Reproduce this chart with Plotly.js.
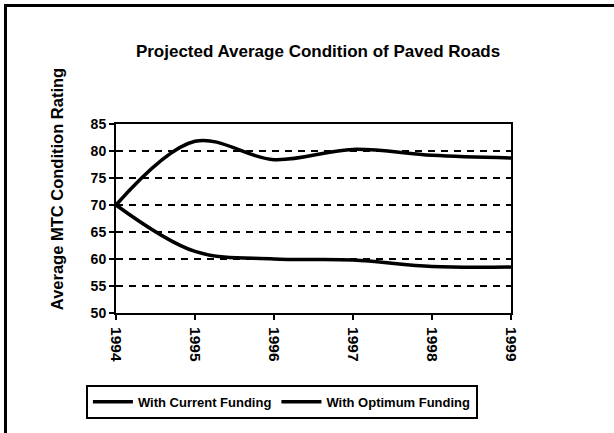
<!DOCTYPE html>
<html><head><meta charset="utf-8">
<script src="https://cdn.plot.ly/plotly-3.0.1.min.js"></script>
<style>
body{margin:0;padding:0;background:#fff;}
#wrap{position:relative;width:614px;height:433px;}
#chart{position:absolute;left:0;top:0;width:614px;height:433px;}
#frame{position:absolute;left:4px;top:4px;width:620px;height:426px;border-left:3px solid #000;border-top:3px solid #000;pointer-events:none;}
</style></head>
<body><div id="wrap"><div id="chart"></div><div id="frame"></div></div>
<script>
const years = ['1994','1995','1996','1997','1998','1999'];
const currentFunding = [70, 61.4, 60.0, 59.8, 58.6, 58.5];
const optimumFunding = [70, 81.8, 78.4, 80.3, 79.2, 78.7];
const yTicks = [50, 55, 60, 65, 70, 75, 80, 85];
const yTitle = 'Average MTC Condition Rating';

const F = '"Liberation Sans", Arial, sans-serif';
const lineStyle = {color:'#000', width:3.5, shape:'spline', smoothing:1};

const traces = [
  {x:[0,1,2,3,4,5], y:currentFunding, name:'With Current Funding', mode:'lines', line:lineStyle},
  {x:[0,1,2,3,4,5], y:optimumFunding, name:'With Optimum Funding', mode:'lines', line:lineStyle}
];

const layout = {
  width:614, height:433,
  margin:{l:116, r:103, t:124, b:120},
  paper_bgcolor:'#fff', plot_bgcolor:'#fff',
  showlegend:true,
  title:{text:'<b>Projected Average Condition of Paved Roads</b>', x:0.518, xanchor:'center', y:0.882, yanchor:'middle',
         font:{family:F, size:17, color:'#000'}},
  xaxis:{
    type:'linear', range:[0,5], tickmode:'array', tickvals:[0,1,2,3,4,5], ticktext:years.map(s=>'<b>'+s+'</b>'),
    tickangle:90, ticks:'outside', ticklen:5, tickwidth:1.5, tickcolor:'#000', ticklabelstandoff:4,
    showline:true, linecolor:'#000', linewidth:2, mirror:true, showgrid:false, zeroline:false,
    tickfont:{family:F, size:15.5, color:'#000'}
  },
  yaxis:{
    range:[50,85], tickmode:'array', tickvals:yTicks, ticktext:yTicks.map(v=>'<b>'+v+'</b>'),
    ticks:'outside', ticklen:5, tickwidth:1.5, tickcolor:'#000',
    showline:true, linecolor:'#000', linewidth:2, mirror:true,
    showgrid:true, gridcolor:'#000', gridwidth:1.5, griddash:'7px,6px', zeroline:false,
    tickfont:{family:F, size:14, color:'#000'}
  },
  annotations:[{text:'<b>'+yTitle+'</b>', textangle:-90, xref:'paper', yref:'paper',
    x:-0.149, y:0.656, xanchor:'center', yanchor:'middle', showarrow:false,
    font:{family:F, size:16.5, color:'#000'}}],
  legend:{orientation:'h', x:0.42, xanchor:'center', y:-0.38, yanchor:'top',
          bordercolor:'#000', borderwidth:2, bgcolor:'#fff',
          font:{family:F, size:13, color:'#000'}, itemwidth:40, tracegroupgap:0}
};
traces.forEach(t=>{t.name='<b>'+t.name+'</b>';});
Plotly.newPlot('chart', traces, layout, {staticPlot:true});
</script></body></html>
